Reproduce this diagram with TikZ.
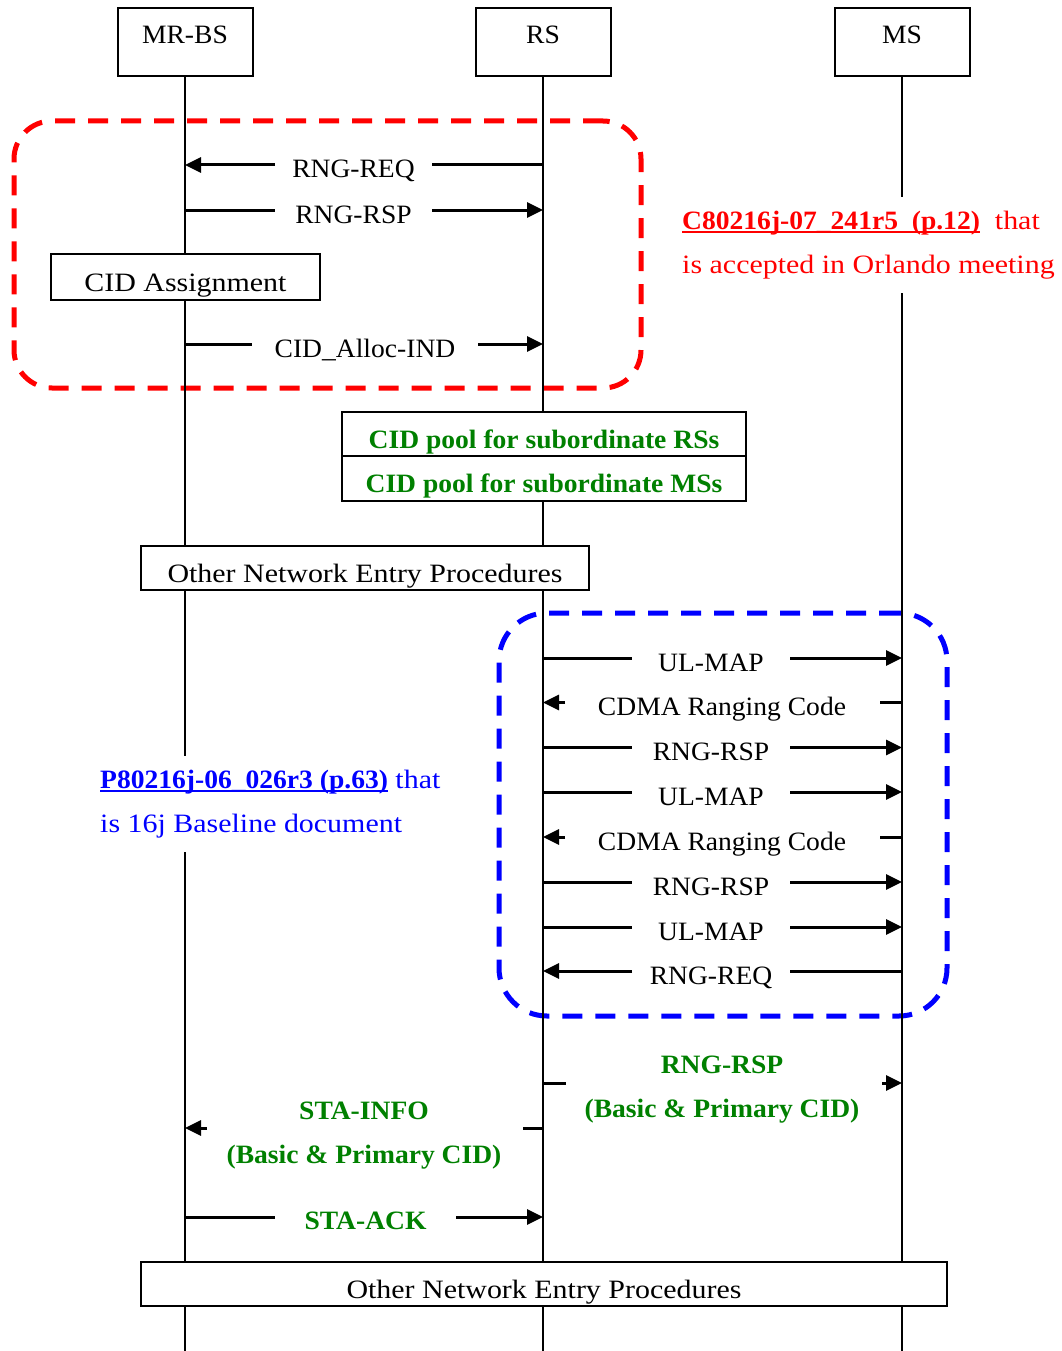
\documentclass[tikz,border=0pt]{standalone}
\usepackage{fontspec}
\setmainfont[FakeStretch=1.04]{Liberation Serif}
\newfontfamily\widefont[FakeStretch=1.13]{Liberation Serif}
\usetikzlibrary{arrows.meta}
\definecolor{msgreen}{RGB}{0,128,0}
\newcommand\fs{\fontsize{26.5}{44}\selectfont}
\newcommand\linku[1]{\setbox0\hbox{#1}\rlap{\rule[-3.5pt]{\wd0}{1.8pt}}\box0}
% message with arrow tip on the left: id, y, x tip, gap left, gap right, x tail
\newcommand\msgleft[6]{%
  \coordinate (#1L) at (#3,#2); \coordinate (#1a) at (#4,#2);
  \coordinate (#1b) at (#5,#2); \coordinate (#1R) at (#6,#2);
  \draw[seg] (#1R) -- (#1b); \draw[msg] (#1a) -- (#1L);}
% message with arrow tip on the right: id, y, x tail, gap left, gap right, x tip
\newcommand\msgright[6]{%
  \coordinate (#1L) at (#3,#2); \coordinate (#1a) at (#4,#2);
  \coordinate (#1b) at (#5,#2); \coordinate (#1R) at (#6,#2);
  \draw[seg] (#1L) -- (#1a); \draw[msg] (#1b) -- (#1R);}
\begin{document}
\begin{tikzpicture}[x=1pt,y=-1pt,
  life/.style={line width=1.5pt},
  seg/.style={line width=3pt},
  msg/.style={line width=3pt,-{Triangle[length=16pt,width=15pt]}},
  hdr/.style={draw,line width=2pt,fill=white,minimum width=135pt,minimum height=68pt,
    inner sep=0pt,text height=18pt,text depth=14pt,font=\fs},
  pbox/.style={draw,line width=2pt,fill=white,inner sep=0pt,text height=28pt,text depth=0pt,font=\fs},
  wbox/.style={pbox,font={\widefont\fs}},
  gbox/.style={pbox,font={\fs\bfseries},text=msgreen},
  lbl/.style={font=\fs,inner sep=0pt,anchor=base},
  glbl/.style={lbl,font={\fs\bfseries},text=msgreen,align=center},
  zone/.style={draw,line width=5pt,dash pattern=on 20pt off 13pt,inner sep=0pt},
  note/.style={font={\widefont\fs},align=left,fill=white,inner xsep=6pt,inner ysep=14pt,anchor=north west},
]
\useasboundingbox (0,0) rectangle (1061,1351);

% dashed zones
\node[zone,draw=red,rounded corners=38pt,minimum width=627pt,minimum height=267pt] (rz) at (327.5,254.5) {};
\node[zone,draw=blue,rounded corners=48pt,minimum width=448pt,minimum height=403pt] (bz) at (723,814.5) {};

% heads and lifelines
\node[hdr] (bs) at (185,42) {MR-BS};
\node[hdr] (rs) at (543,42) {RS};
\node[hdr] (ms) at (902,42) {MS};
\coordinate (bsEnd) at (185,1351);
\coordinate (rsEnd) at (543,1351);
\coordinate (msEnd) at (902,1351);
\draw[life] (bs.south) -- (bsEnd);
\draw[life] (rs.south) -- (rsEnd);
\draw[life] (ms.south) -- (msEnd);

% boxes
\node[wbox,minimum width=269pt,minimum height=46pt] (cid) at (185.5,277) {CID Assignment};
\node[gbox,minimum width=404pt,minimum height=44pt] (poolr) at (544,434) {CID pool for subordinate RSs};
\node[gbox,minimum width=404pt,minimum height=45pt] (poolm) at (544,478.5) {CID pool for subordinate MSs};
\node[wbox,minimum width=448pt,minimum height=44pt] (other1) at (365,568) {Other Network Entry Procedures};
\node[wbox,minimum width=806pt,minimum height=44pt] (other2) at (544,1284) {Other Network Entry Procedures};

% red zone messages
\msgleft{m1}{165}{185}{275}{432}{543}
\node[lbl] (t1) at (353.5,178) {RNG-REQ};
\msgright{m2}{210}{185}{275}{432}{543}
\node[lbl] (t2) at (353.5,223) {RNG-RSP};
\msgright{m3}{344}{185}{252}{478}{543}
\node[lbl] (t3) at (365,357) {CID\_Alloc-IND};

% blue zone messages
\msgright{m4}{658}{543}{632}{790}{902}
\node[lbl] (t4) at (711,671) {UL-MAP};
\msgleft{m5}{702.5}{543}{565}{880}{902}
\node[lbl] (t5) at (722,715.5) {CDMA Ranging Code};
\msgright{m6}{747.5}{543}{632}{790}{902}
\node[lbl] (t6) at (711,760.5) {RNG-RSP};
\msgright{m7}{792}{543}{632}{790}{902}
\node[lbl] (t7) at (711,805) {UL-MAP};
\msgleft{m8}{837}{543}{565}{880}{902}
\node[lbl] (t8) at (722,850) {CDMA Ranging Code};
\msgright{m9}{882}{543}{632}{790}{902}
\node[lbl] (t9) at (711,895) {RNG-RSP};
\msgright{m10}{927}{543}{632}{790}{902}
\node[lbl] (t10) at (711,940) {UL-MAP};
\msgleft{m11}{971}{543}{632}{790}{902}
\node[lbl] (t11) at (711,984) {RNG-REQ};

% green messages (base anchor = baseline of the last line)
\msgright{m12}{1083}{543}{566}{882}{902}
\node[glbl] (t12) at (722,1117) {RNG-RSP\\(Basic \& Primary CID)};
\msgleft{m13}{1128}{185}{207}{523}{543}
\node[glbl] (t13) at (364,1163) {STA-INFO\\(Basic \& Primary CID)};
\msgright{m14}{1217}{185}{275}{456}{543}
\node[glbl] (t14) at (365.5,1229) {STA-ACK};

% notes
\node[note,text=red] (cref) at (676,196.5)
  {\linku{\rmfamily\textbf{C80216j-07\_241r5\ \ (p.12)}}\ \ that\\is accepted in Orlando meeting};
\node[note,text=blue] (bref) at (94,755.5)
  {\linku{\rmfamily\textbf{P80216j-06\_026r3 (p.63)}}\ that\\is 16j Baseline document};
\end{tikzpicture}
\end{document}
